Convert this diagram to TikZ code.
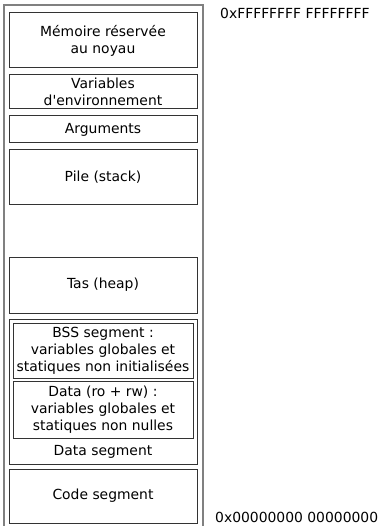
\documentclass[tikz,border=0pt]{standalone}
\usepackage{fontspec}
\setmainfont{DejaVu Sans}
\begin{document}
\begin{tikzpicture}[x=1pt,y=-1pt,font=\fontsize{13.9}{17}\selectfont,
  seg/.style={draw=black!80,line width=1pt,align=center,inner sep=0pt,minimum width=188pt},
  sub/.style={seg,minimum width=180pt},
  adr/.style={anchor=base west,inner sep=0pt}]
  \useasboundingbox (0,0) rectangle (380,526);
  \draw[gray,line width=2pt] (4,5) rectangle (202.5,540);
  \node[seg,minimum height=55pt] (noyau) at (103,40.5) {Mémoire réservée\\au noyau};
  \node[seg,minimum height=34pt] (env) at (103,92) {Variables\\d\textquotesingle environnement};
  \node[seg,minimum height=27pt] (args) at (103,129.5) {Arguments};
  \node[seg,minimum height=55pt] (pile) at (103,177.5) {Pile (stack)};
  \node[seg,minimum height=56pt] (tas) at (103,285) {Tas (heap)};
  \node[seg,minimum height=145pt] (dataseg) at (103,391.5) {};
  \node[sub,minimum height=55pt] (bss) at (103,350.5) {BSS segment :\\variables globales et\\statiques non initialisées};
  \node[sub,minimum height=57pt] (data) at (103,409.5) {Data (ro + rw) :\\variables globales et\\statiques non nulles};
  \node[anchor=base] (datalbl) at (103,455) {Data segment};
  \node[seg,minimum height=54pt] (code) at (103,496) {Code segment};
  \node[adr] (haut) at (220,19) {0xFFFFFFFF FFFFFFFF};
  \node[adr] (bas) at (215,522) {0x00000000 00000000};
\end{tikzpicture}
\end{document}
